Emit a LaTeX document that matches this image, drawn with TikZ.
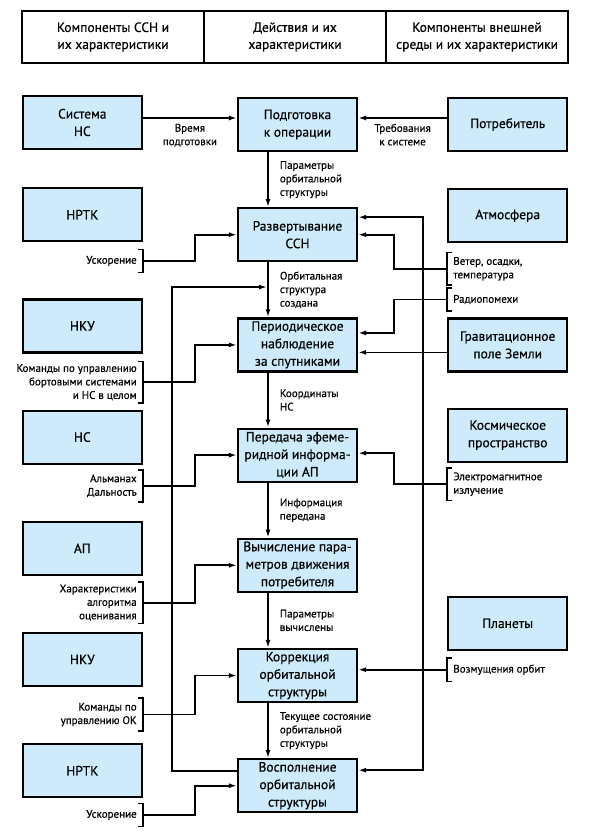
\documentclass[tikz,border=0pt]{standalone}
\usepackage{fontspec}
\setmainfont{PT Sans}[FakeBold=0.45]
\usepackage{tikz}
\usetikzlibrary{arrows.meta, positioning, calc}
\definecolor{ssnfill}{RGB}{205,235,250}

\begin{document}
\begin{tikzpicture}[x=1pt, y=1pt,
    blk/.style={draw, rectangle, line width=2.2pt, fill=ssnfill,
                minimum width=119pt, minimum height=53pt, align=center,
                font=\fontsize{13.5}{17.5}\selectfont, inner sep=1pt},
    hdr/.style={draw, rectangle, line width=1.8pt, outer sep=0pt,
                minimum width=182pt, minimum height=52pt, align=center,
                font=\fontsize{13.5}{17}\selectfont},
    arw/.style={-{Latex[length=8pt,width=5pt]}, line width=1.8pt},
    arwb/.style={{Latex[length=8pt,width=5pt]}-{Latex[length=8pt,width=5pt]}, line width=1.8pt},
    lbl/.style={font=\fontsize{11}{13.5}\selectfont, inner sep=1pt},
    brkl/.style={font=\fontsize{11}{13.5}\selectfont, align=right,
                 inner xsep=6pt, inner ysep=4.5pt},
    brkr/.style={font=\fontsize{11}{13.5}\selectfont, align=left,
                 inner xsep=6pt, inner ysep=4.5pt},
    brk/.style={line width=1.6pt}
  ]
    \useasboundingbox (0,0) rectangle (596,-834);

    % Шапка
    \node[hdr] (hssn) at (113,-37) {Компоненты ССН и\\их характеристики};
    \node[hdr, right=0pt of hssn] (hact) {Действия и их\\характеристики};
    \node[hdr, right=0pt of hact] (henv) {Компоненты внешней\\среды и их характеристики};

    % Действия
    \node[blk] (prep) at (297.5,-124.5) {Подготовка\\к операции};
    \node[blk, below=55pt of prep] (dep)  {Развертывание\\ССН};
    \node[blk, below=55pt of dep]  (obs)  {Периодическое\\наблюдение\\за спутниками};
    \node[blk, below=55pt of obs]  (eph)  {Передача эфеме-\\ридной информа-\\ции АП};
    \node[blk, below=55pt of eph]  (calc) {Вычисление пара-\\метров движения\\потребителя};
    \node[blk, below=55pt of calc] (corr) {Коррекция\\орбитальной\\структуры};
    \node[blk, below=55pt of corr] (rep)  {Восполнение\\орбитальной\\структуры};

    % Компоненты ССН
    \node[blk, left=94pt of prep, yshift=2pt] (sysns) {Система\\НС};
    \node[blk, below=37pt of sysns] (nrtk1) {НРТК};
    \node[blk, below=56pt of nrtk1] (nku1)  {НКУ};
    \node[blk, below=56pt of nku1]  (ns)    {НС};
    \node[blk, below=56pt of ns]    (ap)    {АП};
    \node[blk, below=56pt of ap]    (nku2)  {НКУ};
    \node[blk, below=56pt of nku2]  (nrtk2) {НРТК};

    % Внешняя среда
    \node[blk, right=89pt of prep]   (cons)  {Потребитель};
    \node[blk, below=36pt of cons]   (atm)   {Атмосфера};
    \node[blk, below=74pt of atm]    (grav)  {Гравитационное\\поле Земли};
    \node[blk, below=35pt of grav]   (space) {Космическое\\пространство};
    \node[blk, below=133pt of space] (plan)  {Планеты};

    % Характеристики слева
    \node[brkl, inner ysep=6.5pt, below left=7pt and 0pt of nrtk1.south east] (acc1) {Ускорение};
    \node[brkl, inner ysep=2.5pt, below left=8pt and 0pt of nku1.south east] (cmd1)
        {Команды по управлению\\бортовыми системами\\и НС в целом};
    \node[brkl, below left=5pt and 0pt of ns.south east] (alm) {Альманах\\Дальность};
    \node[brkl, inner ysep=2.5pt, below left=6pt and 0pt of ap.south east] (alg)
        {Характеристики\\алгоритма\\оценивания};
    \node[brkl, below left=11pt and 0pt of nku2.south east] (cmd2) {Команды по\\управлению ОК};
    \node[brkl, inner ysep=6.5pt, below left=5pt and 0pt of nrtk2.south east] (acc2) {Ускорение};

    % Характеристики справа
    \node[brkr, below right=9pt and 0pt of atm.south west] (wind) {Ветер, осадки,\\температура};
    \node[brkr, inner ysep=6.5pt, below right=3pt and 0pt of wind.south west] (radio) {Радиопомехи};
    \node[brkr, below right=5pt and 0pt of space.south west] (emr) {Электромагнитное\\излучение};
    \node[brkr, inner ysep=6.5pt, below right=7pt and 0pt of plan.south west] (pert) {Возмущения орбит};

    \foreach \n in {acc1, cmd1, alm, alg, cmd2, acc2}
      \draw[brk] ([xshift=-5pt]\n.north east) -- (\n.north east) -- (\n.south east) -- ++(-5pt,0);
    \foreach \n in {wind, radio, emr, pert}
      \draw[brk] ([xshift=5pt]\n.north west) -- (\n.north west) -- (\n.south west) -- ++(5pt,0);

    % Последовательность действий (левее середины блоков)
    \draw[arw] ([xshift=-29.5pt]prep.south) -- ([xshift=-29.5pt]dep.north)
               node[midway, right=10pt, lbl, align=left]{Параметры\\орбитальной\\структуры};
    \draw[arw] ([xshift=-29.5pt]dep.south) -- ([xshift=-29.5pt]obs.north)
               node[midway, right=10pt, lbl, align=left]{Орбитальная\\структура\\создана};
    \draw[arw] ([xshift=-29.5pt]obs.south) -- ([xshift=-29.5pt]eph.north)
               node[midway, right=10pt, lbl, align=left]{Координаты\\НС};
    \draw[arw] ([xshift=-29.5pt]eph.south) -- ([xshift=-29.5pt]calc.north)
               node[midway, right=10pt, lbl, align=left]{Информация\\передана};
    \draw[arw] ([xshift=-29.5pt]calc.south) -- ([xshift=-29.5pt]corr.north)
               node[midway, right=10pt, lbl, align=left]{Параметры\\вычислены};
    \draw[arw] ([xshift=-29.5pt]corr.south) -- ([xshift=-29.5pt]rep.north)
               node[midway, right=10pt, lbl, align=left]{Текущее состояние\\орбитальной\\структуры};

    % Входы слева
    \draw[arw] ([yshift=4.5pt]sysns.east) -- ([yshift=4.5pt]sysns.east -| prep.west)
               node[midway, below=4pt, lbl, align=center]{Время\\подготовки};
    \draw[arw] (acc1.east) -- ++(52pt,0) |- (dep.west);
    \draw[arw] (cmd1.east) -- ++(52pt,0) |- (obs.west);
    \draw[arw] (alm.east)  -- ++(52pt,0) |- (eph.west);
    \draw[arw] (alg.east)  -- ++(52pt,0) |- (calc.west);
    \draw[arw] (cmd2.east) -- ++(52pt,0) |- (corr.west);
    \draw[arw] (acc2.east) -- ++(52pt,0) |- (rep.west);

    % Входы справа
    \draw[arw] ([yshift=6.5pt]cons.west) -- ([yshift=6.5pt]cons.west -| prep.east)
               node[midway, below=4pt, lbl, align=center]{Требования\\к системе};
    \draw[arw] (wind.west)  -- ++(-53pt,0) |- (dep.east);
    \draw[arw] (radio.west) -- ++(-53pt,0) |- ([yshift=12pt]obs.east);
    \draw[arw] ([yshift=-7.5pt]grav.west) -- ([yshift=-7.5pt]grav.west -| obs.east);
    \draw[arw] (emr.west)   -- ++(-53pt,0) |- ([yshift=2pt]eph.east);
    \draw[arw] (pert.west)  -- (pert.west -| corr.east);

    % Обратные связи
    \coordinate (join) at ($([xshift=-29.5pt]dep.south)!0.45!([xshift=-29.5pt]obs.north)$);
    \draw[arw] ([yshift=14.5pt]rep.west) -- ++(-65pt,0) |- ([xshift=-1pt]join);
    \draw[arwb] ([yshift=17.5pt]dep.east) -- ++(65pt,0) |- ([yshift=15.5pt]rep.east);
  \end{tikzpicture}
\end{document}
